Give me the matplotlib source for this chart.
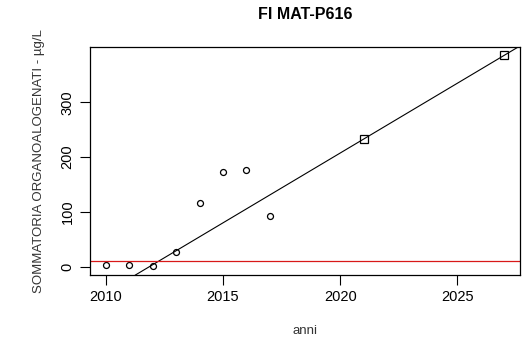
import numpy as np
import matplotlib
matplotlib.use("Agg")
import matplotlib.pyplot as plt

plt.rcParams['font.family'] = ['Liberation Sans', 'DejaVu Sans']

# measured values (circles)
anni = [2010, 2011, 2012, 2013, 2014, 2015, 2016, 2017]
valori = [2, 2, 1, 27, 116, 173, 176, 92]

# projected values (squares) on the trend line
anni_prev = [2021, 2027]
valori_prev = [233, 386]

soglia = 10
x_ticks = [2010, 2015, 2020, 2025]
y_ticks = [0, 100, 200, 300]

fig = plt.figure(figsize=(5.24, 3.38), dpi=100)
ax = fig.add_axes([0.1718, 0.1864, 0.8206, 0.6746])

ax.plot(anni, valori, 'o', mfc='none', mec='black', ms=4.3, mew=0.9)
ax.plot(anni_prev, valori_prev, 's', mfc='none', mec='black', ms=5.2, mew=0.9)
ax.axline((anni_prev[0], valori_prev[0]), (anni_prev[1], valori_prev[1]), color='black', lw=0.8)
ax.axhline(soglia, color='#d81818', lw=0.9)

xall = anni + anni_prev
yall = valori + valori_prev
dx = (max(xall) - min(xall)) * 0.04
dy = (max(yall) - min(yall)) * 0.04
ax.set_xlim(min(xall) - dx, max(xall) + dx)
ax.set_ylim(min(yall) - dy - 1, max(yall) + dy)

ax.set_xticks(x_ticks)
ax.set_yticks(y_ticks)
ax.set_yticklabels([str(v) for v in y_ticks], rotation=90, va='center')
ax.tick_params(direction='out', length=7, width=0.8, labelsize=10.5, pad=4)
for s in ax.spines.values():
    s.set_linewidth(0.9)

ax.set_title('FI MAT-P616', fontsize=11.5, fontweight='bold', pad=20)
ax.set_xlabel('anni', fontsize=9.5, color='#333333', labelpad=15)
ax.set_ylabel('SOMMATORIA ORGANOALOGENATI - µg/L', fontsize=9.5, color='#333333', labelpad=11)

fig.savefig('out.png', dpi=100)
